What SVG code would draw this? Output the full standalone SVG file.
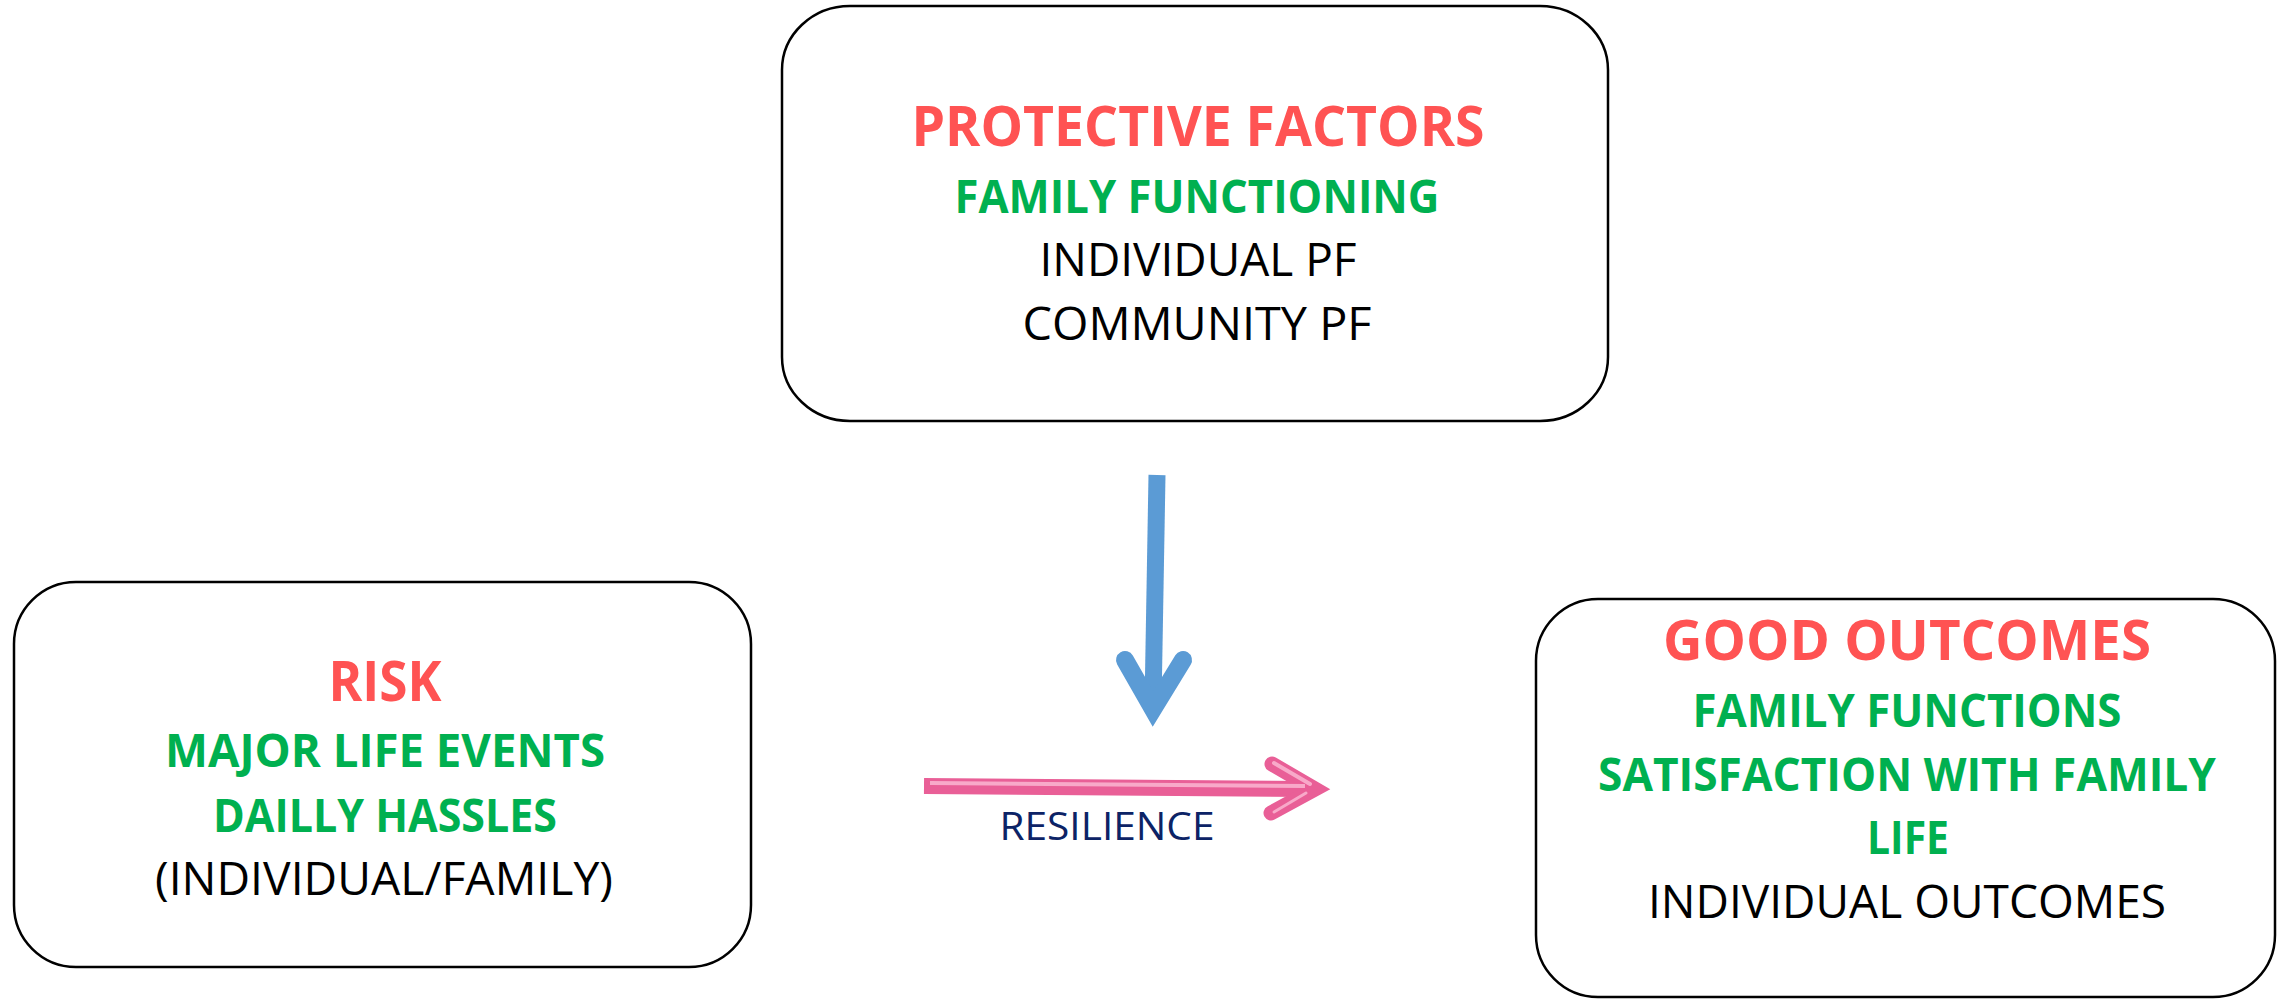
<svg xmlns="http://www.w3.org/2000/svg" width="2282" height="999" viewBox="0 0 2282 999">
<style>
.box{fill:#fff;stroke:#000;stroke-width:2.5}
text{font-family:"Open Sans","Noto Sans","Liberation Sans",sans-serif;text-anchor:middle}
.red{fill:#FF5353;font-weight:700;font-size:56px}
.grn{fill:#00B050;font-weight:700;font-size:46px}
.blk{fill:#000;font-size:46px}
.res{fill:#0C2366;font-size:39px}
</style>
<rect width="2282" height="999" fill="#fff"/>
<g id="connectors">
  <g id="blue-arrow" fill="none" stroke="#5B9BD5">
    <path d="M1157,475 L1153,705" stroke-width="17"/>
    <path d="M1125,660 L1153,709 L1183,660" stroke-width="18" stroke-linecap="round" stroke-linejoin="miter"/>
  </g>
  <g id="pink-arrow" fill="none">
    <path d="M924,786 L1312,789" stroke="#E95F97" stroke-width="16"/>
    <path d="M1272,764 L1315,789 L1271,813" stroke="#E95F97" stroke-width="15" stroke-linecap="round" stroke-linejoin="miter"/>
    <path d="M930,783 L1305,786" stroke="#F8A9C9" stroke-width="4"/>
    <path d="M1274,763 L1310,784" stroke="#F8A9C9" stroke-width="4" stroke-linecap="round"/>
    <path d="M1274,812 L1306,793" stroke="#F8A9C9" stroke-width="3" stroke-linecap="round"/>
  </g>
  <text class="res" x="1107" y="840" textLength="215" lengthAdjust="spacingAndGlyphs">RESILIENCE</text>
</g>
<g id="protective">
  <rect class="box" x="782" y="6" width="826" height="415" rx="68" ry="64"/>
  <text class="red" x="1198" y="146" textLength="573" lengthAdjust="spacingAndGlyphs">PROTECTIVE FACTORS</text>
  <text class="grn" x="1197" y="213" textLength="485" lengthAdjust="spacingAndGlyphs">FAMILY FUNCTIONING</text>
  <text class="blk" x="1198" y="276" textLength="317" lengthAdjust="spacingAndGlyphs">INDIVIDUAL PF</text>
  <text class="blk" x="1197" y="340" textLength="349" lengthAdjust="spacingAndGlyphs">COMMUNITY PF</text>
</g>
<g id="risk">
  <rect class="box" x="14" y="582" width="737" height="385" rx="62" ry="62"/>
  <text class="red" x="385" y="701" textLength="113" lengthAdjust="spacingAndGlyphs">RISK</text>
  <text class="grn" x="385" y="767" textLength="440" lengthAdjust="spacingAndGlyphs">MAJOR LIFE EVENTS</text>
  <text class="grn" x="385" y="832" textLength="344" lengthAdjust="spacingAndGlyphs">DAILLY HASSLES</text>
  <text class="blk" x="384" y="895" textLength="458" lengthAdjust="spacingAndGlyphs">(INDIVIDUAL/FAMILY)</text>
</g>
<g id="outcomes">
  <rect class="box" x="1536" y="599" width="739" height="398" rx="62" ry="62"/>
  <text class="red" x="1907" y="660" textLength="488" lengthAdjust="spacingAndGlyphs">GOOD OUTCOMES</text>
  <text class="grn" x="1907" y="727" textLength="429" lengthAdjust="spacingAndGlyphs">FAMILY FUNCTIONS</text>
  <text class="grn" x="1907" y="791" textLength="618" lengthAdjust="spacingAndGlyphs">SATISFACTION WITH FAMILY</text>
  <text class="grn" x="1908" y="854" textLength="82" lengthAdjust="spacingAndGlyphs">LIFE</text>
  <text class="blk" x="1907" y="918" textLength="518" lengthAdjust="spacingAndGlyphs">INDIVIDUAL OUTCOMES</text>
</g>
</svg>
